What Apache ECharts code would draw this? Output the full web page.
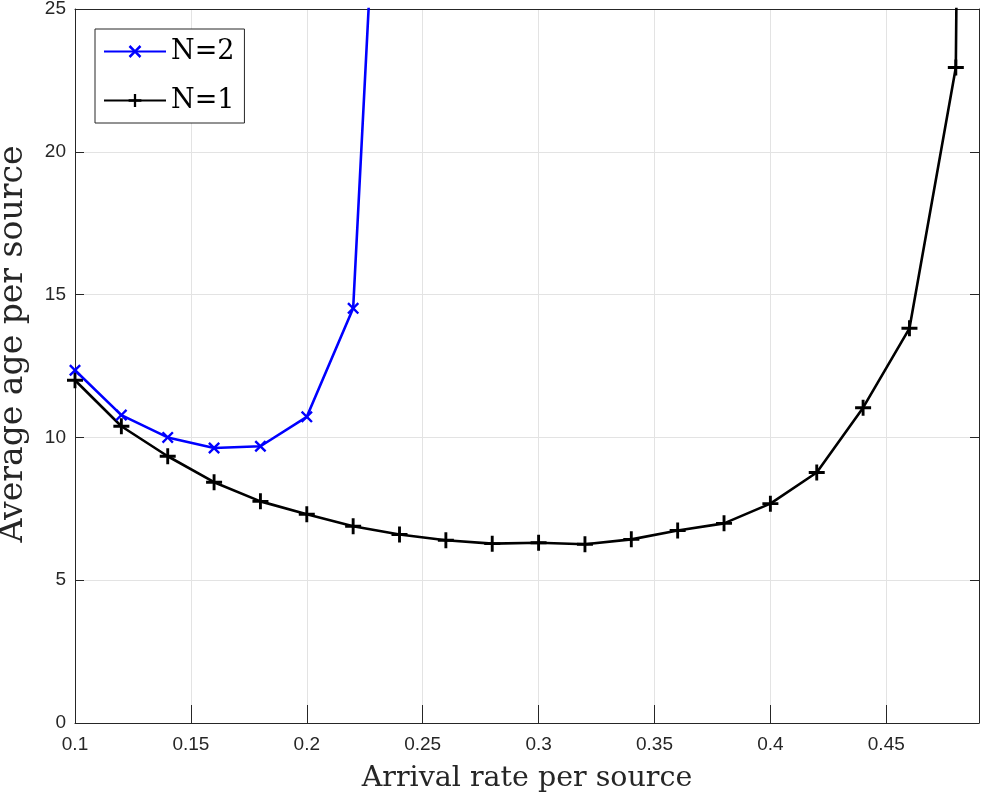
<!DOCTYPE html>
<html>
<head>
<meta charset="utf-8">
<script src="https://cdn.jsdelivr.net/npm/echarts@6/dist/echarts.min.js"></script>
<style>
  html, body { margin: 0; padding: 0; background: #fff; }
  #chart { width: 982px; height: 796px; }
</style>
</head>
<body>
<div id="chart"></div>
<script>
// arrival rate per source (x) and average age (y)
const ratesN2 = [0.1, 0.12, 0.14, 0.16, 0.18, 0.2, 0.22, 0.24];
const ageN2 = [12.35, 10.78, 10.0, 9.63, 9.69, 10.72, 14.52, 46];

const ratesN1 = [0.1, 0.12, 0.14, 0.16, 0.18, 0.2, 0.22, 0.24, 0.26, 0.28, 0.3,
  0.32, 0.34, 0.36, 0.38, 0.4, 0.42, 0.44, 0.46, 0.48, 0.5];
const ageN1 = [12.0, 10.39, 9.34, 8.43, 7.76, 7.31, 6.89, 6.6, 6.4, 6.28, 6.31,
  6.26, 6.43, 6.74, 6.99, 7.68, 8.77, 11.04, 13.82, 22.95, 200];

const seriesNames = ["N=2", "N=1"];

const plusPath = "path://M4.1,0H5.9V4.1H10V5.9H5.9V10H4.1V5.9H0V4.1H4.1Z";
const crossPath = "path://M1.4,0L5,3.6L8.6,0L10,1.4L6.4,5L10,8.6L8.6,10L5,6.4L1.4,10L0,8.6L3.6,5L0,1.4Z";

const X_MIN = 0.1, X_MAX = 0.49, X_STEP = 0.05;
const Y_MIN = 0, Y_MAX = 25, Y_STEP = 5;

const chart = echarts.init(document.getElementById("chart"));

const tickFont = { fontFamily: "Liberation Sans, Arial, sans-serif", fontSize: 19, color: "#262626" };
const frameLine = { show: true, onZero: false, lineStyle: { color: "#262626", width: 1 } };

// helper axis: either the box line on one side, or ticks pulled 9px inward
function helperAxis(pos, isX, ticks) {
  return {
    type: "value",
    position: pos,
    offset: ticks ? -9 : 0,
    min: isX ? X_MIN : Y_MIN,
    max: isX ? X_MAX : Y_MAX,
    interval: isX ? X_STEP : Y_STEP,
    axisLine: ticks ? { show: false } : frameLine,
    axisTick: ticks ? { show: true, length: 9, lineStyle: { color: "#262626", width: 1 } } : { show: false },
    axisLabel: { show: false },
    splitLine: { show: false }
  };
}

function pairs(xs, ys) {
  return xs.map((x, i) => [x, ys[i]]);
}

chart.setOption({
  animation: false,
  backgroundColor: "#fff",
  grid: { left: 75, right: 3, top: 9, bottom: 73, outerBoundsMode: "none", containLabel: false },
  legend: {
    orient: "vertical",
    left: 95,
    top: 29,
    data: seriesNames,
    backgroundColor: "#fff",
    borderColor: "#262626",
    borderWidth: 1,
    borderRadius: 0,
    padding: [9, 10, 9, 8],
    itemWidth: 62,
    itemHeight: 16,
    itemGap: 22,
    textStyle: { fontFamily: "DejaVu Serif, serif", fontSize: 27, color: "#000" }
  },
  xAxis: [
    {
      type: "value",
      min: X_MIN,
      max: X_MAX,
      interval: X_STEP,
      name: "Arrival rate per source",
      nameLocation: "middle",
      nameGap: 41,
      nameTextStyle: { fontFamily: "DejaVu Serif, serif", fontSize: 28.5, color: "#262626" },
      axisLine: frameLine,
      axisTick: { show: false },
      axisLabel: Object.assign({ margin: 12, showMaxLabel: false }, tickFont),
      splitLine: { show: true, lineStyle: { color: "#e3e3e3", width: 1 } }
    },
    helperAxis("top", true, false),
    helperAxis("bottom", true, true),
    helperAxis("top", true, true)
  ],
  yAxis: [
    {
      type: "value",
      min: Y_MIN,
      max: Y_MAX,
      interval: Y_STEP,
      name: "Average age per source",
      nameLocation: "middle",
      nameGap: 45,
      nameTextStyle: { fontFamily: "DejaVu Serif, serif", fontSize: 33, color: "#262626", padding: [0, 0, 0, 44] },
      axisLine: frameLine,
      axisTick: { show: false },
      axisLabel: Object.assign({ margin: 9 }, tickFont),
      splitLine: { show: true, lineStyle: { color: "#e3e3e3", width: 1 } }
    },
    helperAxis("right", false, false),
    helperAxis("left", false, true),
    helperAxis("right", false, true)
  ],
  series: [
    {
      name: seriesNames[0],
      type: "line",
      data: pairs(ratesN2, ageN2),
      clip: true,
      symbol: crossPath,
      symbolSize: 12,
      showAllSymbol: true,
      lineStyle: { color: "#0000ff", width: 2.6 },
      itemStyle: { color: "#0000ff" },
      z: 3
    },
    {
      name: seriesNames[1],
      type: "line",
      data: pairs(ratesN1, ageN1),
      clip: true,
      symbol: plusPath,
      symbolSize: 16,
      showAllSymbol: true,
      lineStyle: { color: "#000000", width: 2.6 },
      itemStyle: { color: "#000000" },
      z: 2
    }
  ]
});
</script>
</body>
</html>
